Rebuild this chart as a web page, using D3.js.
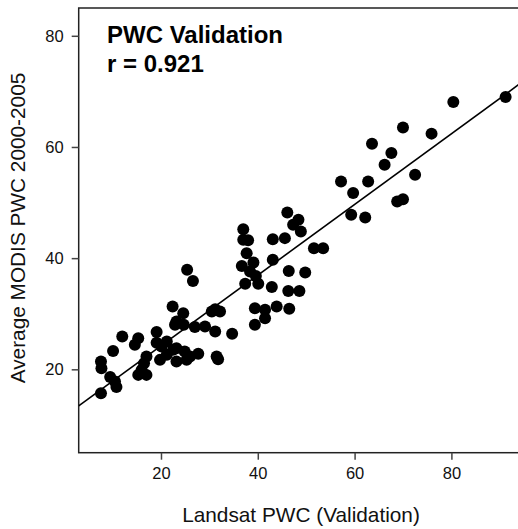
<!DOCTYPE html>
<html>
<head>
<meta charset="utf-8">
<script src="https://cdnjs.cloudflare.com/ajax/libs/d3/7.8.5/d3.min.js"></script>
<style>
  body { margin: 0; background: #fff; }
  svg { display: block; font-family: "Liberation Sans", Arial, sans-serif; }
</style>
</head>
<body>
<div id="chart"></div>
<script>
// Landsat PWC (validation) vs average MODIS PWC
var landsat = [91.2, 80.4, 70.0, 75.9, 63.6, 67.6, 66.2, 72.5, 57.2, 62.8,
  59.7, 68.8, 70.0, 59.3, 62.2, 46.1, 43.1, 45.6, 47.3, 48.4,
  48.9, 51.6, 53.5, 43.1, 37.0, 37.0, 38.0, 37.7, 36.7, 39.1,
  38.4, 39.6, 37.4, 40.1, 46.4, 49.8, 42.9, 46.3, 48.6, 25.4,
  26.6, 39.4, 41.5, 43.9, 46.5, 41.5, 39.4, 31.2, 32.2, 30.5,
  22.4, 24.6, 22.9, 24.7, 27.0, 29.1, 31.2, 34.7, 31.5, 23.2,
  24.9, 27.7, 23.2, 25.3, 23.2, 12.0, 15.3, 14.6, 10.1, 19.1,
  19.1, 21.2, 20.1, 22.5, 21.2, 19.8, 17.0, 16.5, 7.6, 7.7,
  9.5, 10.5, 10.8, 15.3, 17.0, 16.0, 7.6, 26.0, 31.8];
var modis = [69.0, 68.1, 63.5, 62.4, 60.6, 58.9, 56.8, 55.0, 53.8, 53.8,
  51.7, 50.2, 50.6, 47.8, 47.3, 48.2, 43.4, 43.6, 46.0, 46.9,
  44.8, 41.8, 41.8, 39.7, 45.2, 43.3, 43.2, 40.9, 38.6, 39.2,
  37.6, 36.8, 35.4, 35.4, 37.7, 37.4, 34.8, 34.1, 34.1, 37.9,
  35.9, 31.0, 30.7, 31.3, 30.9, 29.2, 28.0, 30.8, 30.4, 30.4,
  31.3, 30.1, 28.0, 28.0, 27.6, 27.7, 26.8, 26.4, 22.3, 23.8,
  23.2, 22.8, 21.4, 21.7, 28.6, 25.9, 25.6, 24.4, 23.3, 26.7,
  24.8, 25.0, 24.1, 23.5, 22.6, 21.7, 22.3, 21.1, 21.4, 20.2,
  18.6, 17.8, 16.8, 19.0, 19.0, 19.9, 15.7, 22.3, 21.8];
var fitLine = {intercept: 11.5, slope: 0.636};
var xTicks = [20, 40, 60, 80];
var yTicks = [20, 40, 60, 80];

var W = 518, H = 529;
var svg = d3.select("#chart").append("svg")
  .attr("width", W).attr("height", H);

var x = d3.scaleLinear().domain([3, 95]).range([78.7, 524]);
var y = d3.scaleLinear().domain([5, 85]).range([452.7, 8]);

svg.append("clipPath").attr("id", "plot")
  .append("rect")
  .attr("x", x(3)).attr("y", y(85))
  .attr("width", x(95) - x(3)).attr("height", y(5) - y(85));

// frame
svg.append("rect")
  .attr("x", x(3)).attr("y", y(85))
  .attr("width", x(95) - x(3)).attr("height", y(5) - y(85))
  .attr("fill", "none").attr("stroke", "#222").attr("stroke-width", 1.5);

var xAxis = svg.append("g")
  .attr("transform", "translate(0," + y(5) + ")")
  .call(d3.axisBottom(x).tickValues(xTicks).tickSize(7).tickPadding(8));
var yAxis = svg.append("g")
  .attr("transform", "translate(" + x(3) + ",0)")
  .call(d3.axisLeft(y).tickValues(yTicks).tickSize(7).tickPadding(8));

[xAxis, yAxis].forEach(function(g){
  g.select(".domain").remove();
  g.selectAll(".tick line").attr("stroke", "#444").attr("stroke-width", 1.5);
  g.selectAll(".tick text").attr("fill", "#111")
    .style("font-size", "16.5px").style("font-family", "Liberation Sans, Arial, sans-serif");
});

var plot = svg.append("g").attr("clip-path", "url(#plot)");

plot.append("line")
  .attr("x1", x(3)).attr("y1", y(fitLine.intercept + fitLine.slope * 3))
  .attr("x2", x(95)).attr("y2", y(fitLine.intercept + fitLine.slope * 95))
  .attr("stroke", "#000").attr("stroke-width", 1.6);

plot.selectAll("circle")
  .data(d3.range(landsat.length))
  .enter().append("circle")
  .attr("cx", function(i){ return x(landsat[i]); })
  .attr("cy", function(i){ return y(modis[i]); })
  .attr("r", 6)
  .attr("fill", "#000");

svg.append("text")
  .attr("x", 107).attr("y", 43)
  .attr("font-weight", "bold").attr("font-size", 24)
  .text("PWC Validation");
svg.append("text")
  .attr("x", 107).attr("y", 71.5)
  .attr("font-weight", "bold").attr("font-size", 24)
  .text("r = 0.921");

svg.append("text")
  .attr("x", 301).attr("y", 522)
  .attr("text-anchor", "middle").attr("font-size", 20.8).attr("fill", "#111")
  .text("Landsat PWC (Validation)");

svg.append("text")
  .attr("transform", "translate(25,228) rotate(-90)")
  .attr("text-anchor", "middle").attr("font-size", 20.8).attr("fill", "#111")
  .text("Average MODIS PWC 2000-2005");
</script>
</body>
</html>
